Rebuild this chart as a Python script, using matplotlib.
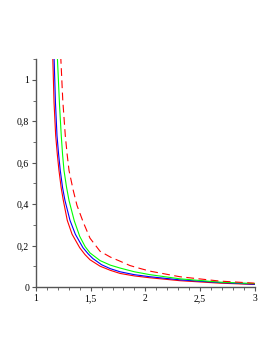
import numpy as np
import matplotlib
matplotlib.use("Agg")
import matplotlib.pyplot as plt
from matplotlib.ticker import MultipleLocator, FuncFormatter

# curves
red_x = [1.153, 1.165, 1.180, 1.195, 1.210, 1.230, 1.250, 1.286, 1.330, 1.400,
         1.448, 1.494, 1.586, 1.680, 1.769, 1.900, 2.043, 2.317, 2.683, 3.0]
red_y = [1.115, 0.890, 0.731, 0.640, 0.563, 0.480, 0.418, 0.322, 0.255, 0.190,
         0.157, 0.132, 0.101, 0.081, 0.066, 0.054, 0.045, 0.031, 0.019, 0.013]

blue_x = [1.165, 1.178, 1.192, 1.207, 1.222, 1.243, 1.265, 1.311, 1.360, 1.430,
          1.478, 1.520, 1.600, 1.680, 1.769, 1.900, 2.043, 2.317, 2.683, 3.0]
blue_y = [1.115, 0.890, 0.731, 0.640, 0.563, 0.480, 0.418, 0.322, 0.255, 0.190,
          0.160, 0.138, 0.108, 0.089, 0.074, 0.060, 0.050, 0.035, 0.022, 0.014]

green_x = [1.195, 1.215, 1.231, 1.243, 1.256, 1.280, 1.302, 1.350, 1.400, 1.450,
           1.494, 1.586, 1.680, 1.769, 1.900, 2.043, 2.317, 2.683, 3.0]
green_y = [1.115, 0.880, 0.731, 0.640, 0.563, 0.480, 0.418, 0.320, 0.245, 0.195,
           0.165, 0.128, 0.106, 0.092, 0.074, 0.060, 0.040, 0.024, 0.017]

dash_x = [1.226, 1.245, 1.268, 1.285, 1.302, 1.341, 1.375, 1.433, 1.494, 1.586,
          1.680, 1.769, 1.860, 1.952, 2.043, 2.317, 2.683, 3.0]
dash_y = [1.115, 0.900, 0.731, 0.640, 0.563, 0.466, 0.394, 0.312, 0.236, 0.173,
          0.145, 0.125, 0.104, 0.090, 0.077, 0.050, 0.029, 0.019]

fig = plt.figure(figsize=(2.77, 3.58), dpi=100)
ax = fig.add_axes([0.130, 0.198, 0.789, 0.637])

ax.plot(red_x, red_y, color="#ff0000", lw=0.8)
ax.plot(blue_x, blue_y, color="#0000ff", lw=0.8)
ax.plot(green_x, green_y, color="#00ff00", lw=0.8)
ax.plot(dash_x, dash_y, color="#ff0000", lw=0.8, dashes=(7, 4))

ax.set_xlim(1, 3)
ax.set_ylim(0, 1.1)

for s in ["top", "right"]:
    ax.spines[s].set_visible(False)
for s in ["left", "bottom"]:
    ax.spines[s].set_color("#555555")
    ax.spines[s].set_linewidth(1.0)

ax.xaxis.set_major_locator(MultipleLocator(0.5))
ax.xaxis.set_minor_locator(MultipleLocator(0.1))
ax.yaxis.set_major_locator(MultipleLocator(0.2))
ax.yaxis.set_minor_locator(MultipleLocator(0.1))

comma = FuncFormatter(lambda v, p: ("%g" % round(v, 2)).replace(".", ","))
ax.xaxis.set_major_formatter(comma)
ax.yaxis.set_major_formatter(comma)

ax.tick_params(which="major", length=3, width=0.8, color="#555555", labelsize=7, pad=2)
ax.tick_params(which="minor", length=2, width=0.6, color="#555555")
for lab in ax.get_xticklabels() + ax.get_yticklabels():
    lab.set_fontfamily("Liberation Serif")

fig.savefig("out.png", dpi=100)
